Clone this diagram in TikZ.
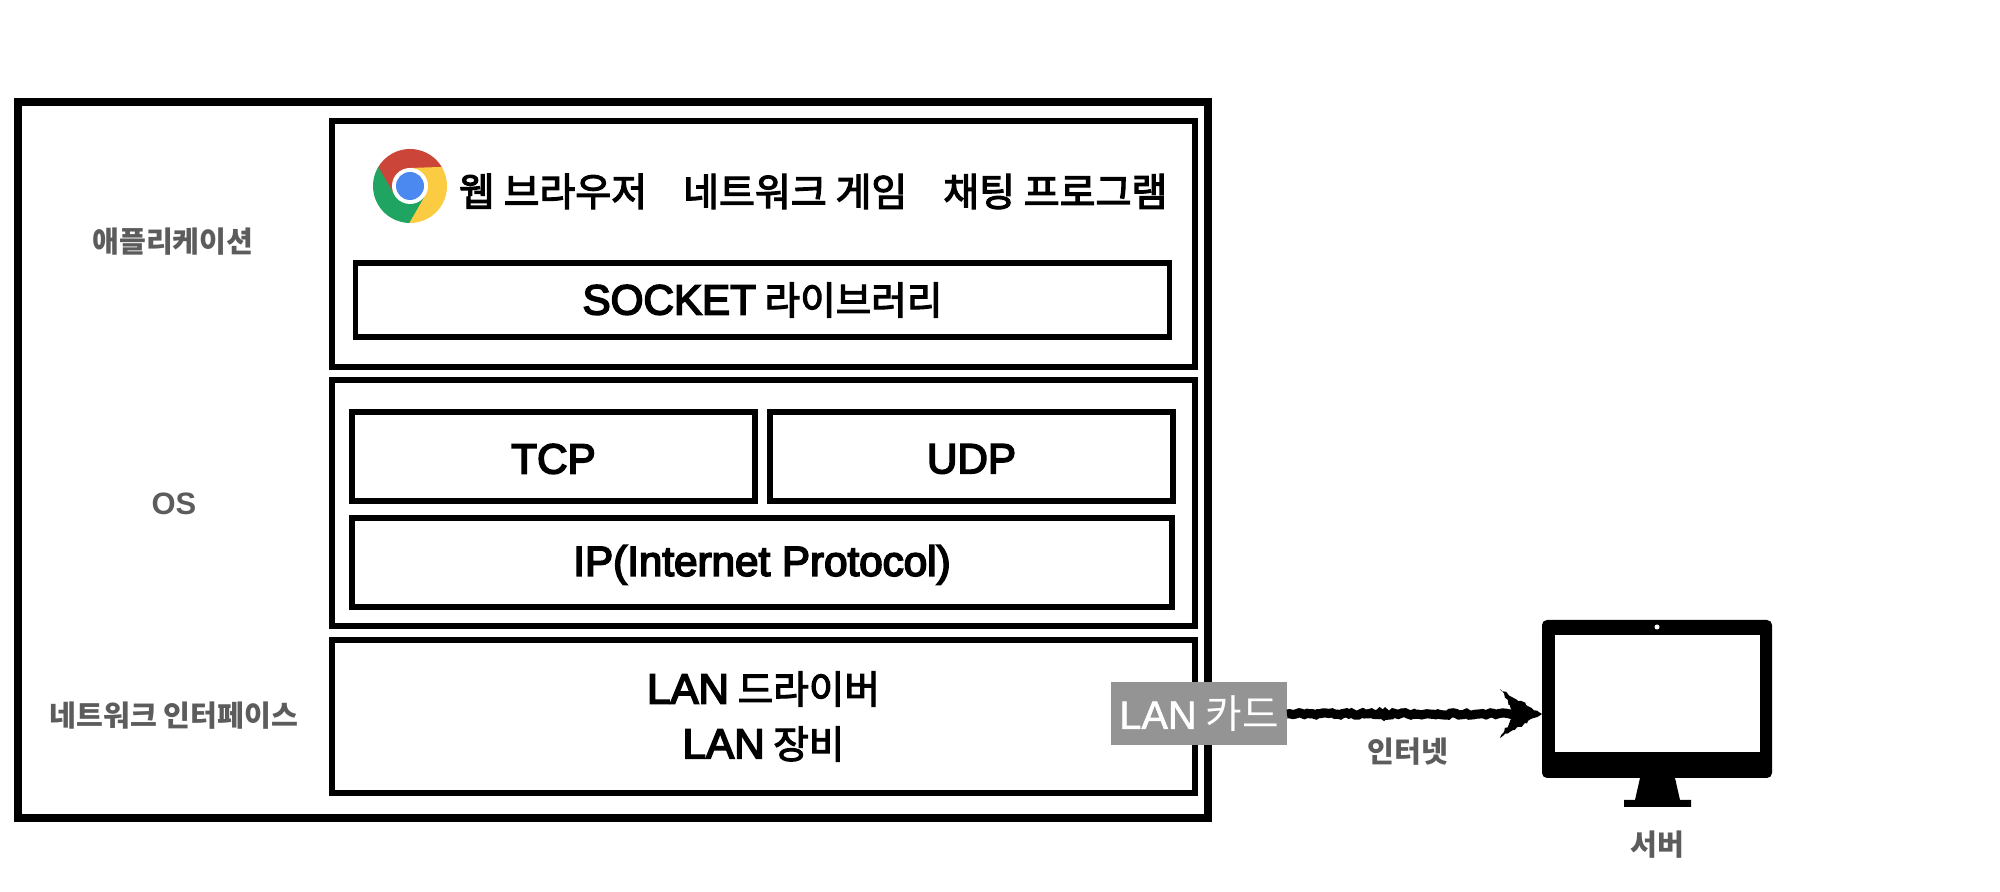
\documentclass[tikz,border=0pt]{standalone}
\usepackage{fontspec}
\setmainfont{Noto Sans CJK KR}
\newfontfamily\hangulfont[FakeBold=3]{Noto Sans CJK KR}
\newfontfamily\latinfont[FakeBold=4]{Liberation Sans}
\newfontfamily\plainlatin[FakeBold=1.5]{Liberation Sans}
\newfontfamily\boldlatin[BoldFont={Liberation Sans Bold}]{Liberation Sans}
\newcommand{\lat}[1]{{\fontsize{12}{15.6}\selectfont\latinfont #1}}
\newcommand{\low}[1]{\raisebox{-0.7pt}[\height][\depth]{#1}}
\usetikzlibrary{positioning}
\usetikzlibrary{calc}
\usetikzlibrary{decorations.pathmorphing}
\definecolor{labelgray}{HTML}{5C5C5C}
\definecolor{cardgray}{HTML}{949494}
\definecolor{chromered}{HTML}{CB4638}
\definecolor{chromegreen}{HTML}{1FA561}
\definecolor{chromeyellow}{HTML}{FBCB42}
\definecolor{chromeblue}{HTML}{4B89F0}
\tikzset{
    layerbox/.style={draw=black,line width=1.5pt,inner sep=0pt,outer sep=0pt,align=center,
        font=\fontsize{11}{15.6}\selectfont\hangulfont},
    applabel/.style={inner sep=0pt,outer sep=0pt,font=\fontsize{11.1}{14}\selectfont\hangulfont},
    sidelabel/.style={inner sep=0pt,text=labelgray,font=\fontsize{8.3}{10}\selectfont\bfseries},
    roughline/.style={decorate,decoration={random steps,segment length=0.8pt,amplitude=0.35pt}}
}
\begin{document}
\begin{tikzpicture}
    \pgfmathsetseed{7}
    \useasboundingbox[fill=white] (0,0) rectangle (20,8.92);
    \node[draw=black,line width=2pt,inner sep=0pt,outer sep=0pt,minimum width=11.9cm,minimum height=7.16cm] (computer) at (6.13,4.32) {};
    \node[layerbox,minimum width=8.63cm,minimum height=2.46cm] (app) at (7.635,6.48) {};
    \node[layerbox,minimum width=8.63cm,minimum height=2.46cm,below = 0.13cm of app] (os) {};
    \node[layerbox,minimum width=8.63cm,minimum height=1.53cm,below = 0.14cm of os] (lan) {\lat{LAN} 드라이버\\\lat{LAN} 장비};
    \node[layerbox,minimum width=8.14cm,minimum height=0.74cm,above = 0.30cm of app.south,xshift=-0.01cm] (socket) {\lat{SOCKET} 라이브러리};
    \node[layerbox,minimum width=4.03cm,minimum height=0.89cm,anchor=north west] (tcp) at (3.52,4.80) {\lat{\low{TCP}}};
    \node[layerbox,minimum width=4.03cm,minimum height=0.89cm,right = 0.15cm of tcp] (udp) {\lat{\low{UDP}}};
    \node[layerbox,minimum width=8.20cm,minimum height=0.89cm,below right = 0.17cm and 0cm of tcp.south west] (ip) {\lat{\low{IP(Internet Protocol)}}};
    \node[applabel,anchor=west] (browser) at (4.59,7.005) {웹 브라우저};
    \node[applabel,right = 0.36cm of browser] (game) {네트워크 게임};
    \node[applabel,right = 0.36cm of game] (chat) {채팅 프로그램};
    \node[sidelabel] (applayer) at (1.73,6.50) {애플리케이션};
    \node[sidelabel,font=\fontsize{8.8}{10}\selectfont\boldlatin\bfseries] (oslayer) at (1.74,3.88) {OS};
    \node[sidelabel] (nic) at (1.74,1.76) {네트워크 인터페이스};
    \node[fill=cardgray,text=white,inner sep=0pt,outer sep=0pt,minimum width=1.76cm,minimum height=0.63cm,font=\fontsize{11.3}{14}\selectfont] (card) at (11.99,1.78) {{\plainlatin LAN} 카드};
    \node[fill=black,rounded corners=0.05cm,inner sep=0pt,outer sep=0pt,minimum width=2.30cm,minimum height=1.58cm] (server) at (16.57,1.93) {};
    \node[fill=white,inner sep=0pt,minimum width=2.05cm,minimum height=1.17cm] (screen) at (16.575,1.985) {};
    \node[circle,fill=white,inner sep=0pt,minimum size=0.05cm] (camera) at (16.57,2.65) {};
    \fill (16.40,1.14) -- (16.75,1.14) -- (16.80,0.92) -- (16.91,0.92) -- (16.91,0.85) -- (16.24,0.85) -- (16.24,0.92) -- (16.35,0.92) -- cycle;
    \node[sidelabel] (servername) at (16.57,0.47) {서버};
    \node[sidelabel] (internet) at (14.08,1.40) {인터넷};
    \coordinate (tip) at (card.east -| server.west);
    \draw[roughline,line width=2.6pt] (card.east) -- ($(tip)+(-0.25,0)$);
    \fill[roughline] (tip) -- ($(tip)+(-0.42,0.25)$) -- ($(tip)+(-0.27,0)$) -- ($(tip)+(-0.42,-0.24)$) -- cycle;
    \begin{scope}[shift={(4.10,7.06)}]
        \foreach \col/\rot in {chromered/0,chromegreen/120,chromeyellow/240} {
            \fill[\col] (\rot+90:0.18) -- (\rot+29:0.37) arc[start angle=\rot+29,end angle=\rot+151,radius=0.37] -- (\rot+210:0.18) -- (0,0) -- cycle;
        }
        \fill[white] (0,0) circle (0.18);
        \fill[chromeblue] (0,0) circle (0.14);
    \end{scope}
\end{tikzpicture}
\end{document}
